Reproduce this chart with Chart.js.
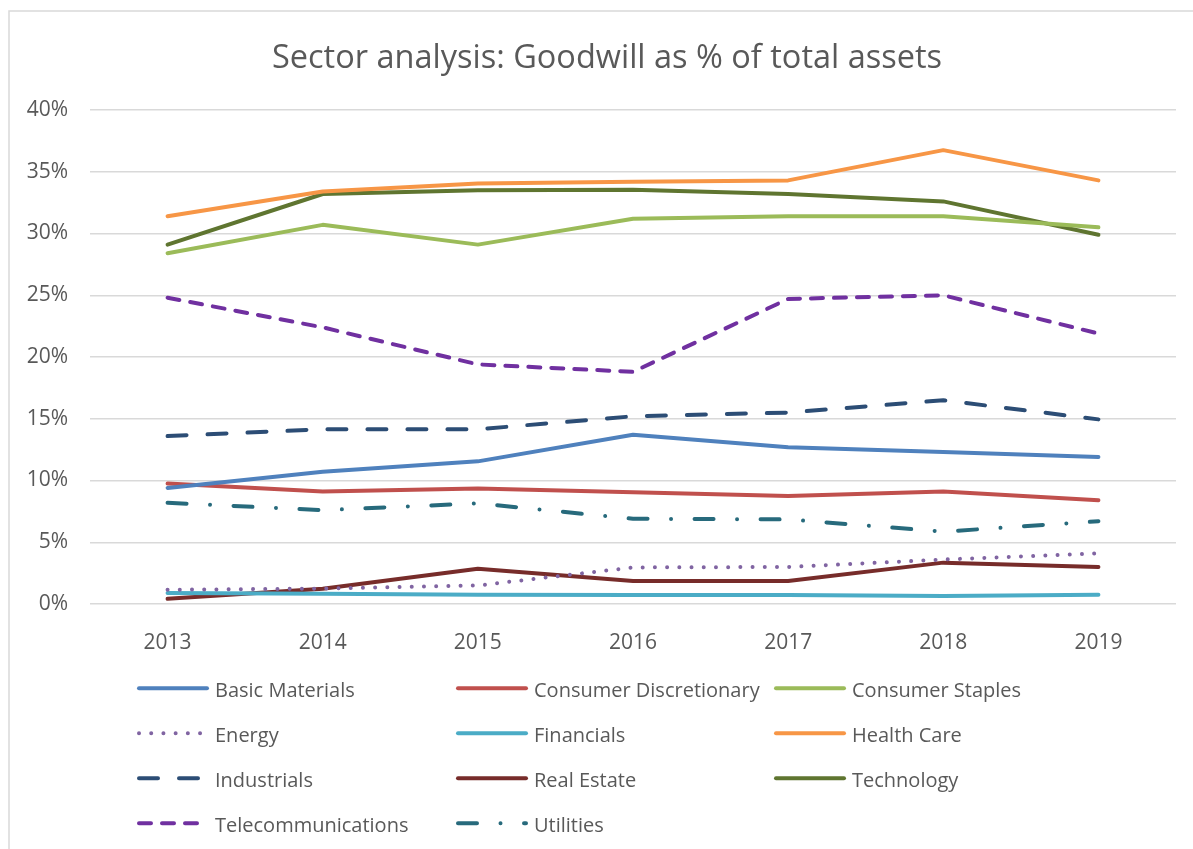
<!DOCTYPE html>
<html>
<head>
    <meta charset="utf-8" />
    <title>Sector analysis</title>
    <script src="https://cdn.jsdelivr.net/npm/chart.js@4.4.1/dist/chart.umd.min.js"></script>
    <style>
        html, body { margin: 0; padding: 0; background: #fff; }
        #wrap { width: 1193px; height: 849px; position: relative; }
    </style>
</head>
<body>
    <div id="wrap"><canvas id="chtGoodwill" width="1193" height="849"></canvas></div>

    <script>
        // dados (% do ativo total)
        const anos = ['2013', '2014', '2015', '2016', '2017', '2018', '2019'];
        const yTicks = [0, 5, 10, 15, 20, 25, 30, 35, 40];

        const basicMaterials   = [9.4, 10.7, 11.55, 13.7, 12.7, 12.3, 11.9];
        const consumerDisc     = [9.75, 9.1, 9.35, 9.05, 8.75, 9.1, 8.4];
        const consumerStaples  = [28.4, 30.7, 29.1, 31.2, 31.4, 31.4, 30.5];
        const energy           = [1.15, 1.25, 1.5, 2.96, 3.0, 3.6, 4.1];
        const financials       = [0.9, 0.84, 0.75, 0.72, 0.72, 0.64, 0.75];
        const healthCare       = [31.4, 33.4, 34.05, 34.2, 34.3, 36.75, 34.3];
        const industrials      = [13.6, 14.15, 14.15, 15.2, 15.5, 16.5, 14.95];
        const realEstate       = [0.42, 1.23, 2.85, 1.87, 1.87, 3.35, 3.0];
        const technology       = [29.1, 33.2, 33.5, 33.55, 33.2, 32.6, 29.9];
        const telecom          = [24.8, 22.4, 19.4, 18.8, 24.7, 25.0, 21.9];
        const utilities        = [8.2, 7.6, 8.15, 6.9, 6.85, 5.86, 6.7];

        const FONT = "'Open Sans', sans-serif";
        const TXT = '#595959';

        function serie(label, data, cor, dash) {
            return {
                label: label,
                data: data,
                borderColor: cor,
                backgroundColor: cor,
                borderWidth: 4,
                borderDash: dash || [],
                borderCapStyle: 'round',
                borderJoinStyle: 'round',
                pointRadius: 0,
                tension: 0
            };
        }

        // legenda em 3 colunas + titulo + moldura
        const extras = {
            id: 'extras',
            beforeDraw(chart) {
                const ctx = chart.ctx;
                ctx.save();
                ctx.strokeStyle = '#D9D9D9';
                ctx.lineWidth = 1.5;
                ctx.beginPath();
                ctx.moveTo(9, 900);
                ctx.lineTo(9, 11);
                ctx.lineTo(1200, 11);
                ctx.stroke();
                ctx.restore();
            },
            afterDraw(chart) {
                const ctx = chart.ctx;
                ctx.save();
                ctx.fillStyle = TXT;
                ctx.font = '32.5px ' + FONT;
                ctx.textAlign = 'center';
                ctx.textBaseline = 'alphabetic';
                ctx.fillText('Sector analysis: Goodwill as % of total assets', 607, 68);

                const colX = [137, 456, 774];
                ctx.font = '20px ' + FONT;
                ctx.textAlign = 'left';
                chart.data.datasets.forEach((ds, i) => {
                    const x = colX[i % 3];
                    const y = 688.3 + Math.floor(i / 3) * 45;
                    ctx.strokeStyle = ds.borderColor;
                    ctx.lineWidth = ds.borderWidth;
                    ctx.lineCap = 'round';
                    ctx.setLineDash(ds.borderDash);
                    ctx.beginPath();
                    ctx.moveTo(x + 2, y);
                    ctx.lineTo(x + 70, y);
                    ctx.stroke();
                    ctx.setLineDash([]);
                    ctx.fillStyle = TXT;
                    ctx.fillText(ds.label, x + 78, y + 8.4);
                });
                ctx.restore();
            }
        };

        new Chart(document.getElementById('chtGoodwill').getContext('2d'), {
            type: 'line',
            data: {
                labels: anos,
                datasets: [
                    serie('Basic Materials', basicMaterials, '#4F81BD'),
                    serie('Consumer Discretionary', consumerDisc, '#C0504D'),
                    serie('Consumer Staples', consumerStaples, '#9BBB59'),
                    serie('Energy', energy, '#8064A2', [0.01, 12.2]),
                    serie('Financials', financials, '#4BACC6'),
                    serie('Health Care', healthCare, '#F79646'),
                    serie('Industrials', industrials, '#2C4D75', [19, 21]),
                    serie('Real Estate', realEstate, '#772C2A'),
                    serie('Technology', technology, '#5F7530'),
                    serie('Telecommunications', telecom, '#7030A0', [12, 11]),
                    serie('Utilities', utilities, '#276A7C', [19, 23.5, 0.01, 23.5])
                ]
            },
            plugins: [extras],
            options: {
                responsive: false,
                animation: false,
                layout: {
                    padding: { top: 110, right: 17, bottom: 0, left: 0 }
                },
                plugins: {
                    legend: { display: false },
                    title: { display: false },
                    tooltip: { enabled: false }
                },
                scales: {
                    x: {
                        offset: true,
                        grid: { display: false },
                        border: { display: false },
                        ticks: {
                            color: TXT,
                            font: { family: FONT, size: 21 },
                            padding: 18
                        },
                        afterFit(scale) { scale.height = 245; }
                    },
                    y: {
                        min: 0,
                        max: 40,
                        afterBuildTicks(scale) {
                            scale.ticks = yTicks.map(v => ({ value: v }));
                        },
                        grid: { color: '#D9D9D9', lineWidth: 1.5, drawTicks: false },
                        border: { display: false },
                        ticks: {
                            color: TXT,
                            font: { family: FONT, size: 21 },
                            padding: 22,
                            callback: v => v + '%'
                        },
                        afterFit(scale) { scale.width = 90; }
                    }
                }
            }
        });
    </script>
</body>
</html>
